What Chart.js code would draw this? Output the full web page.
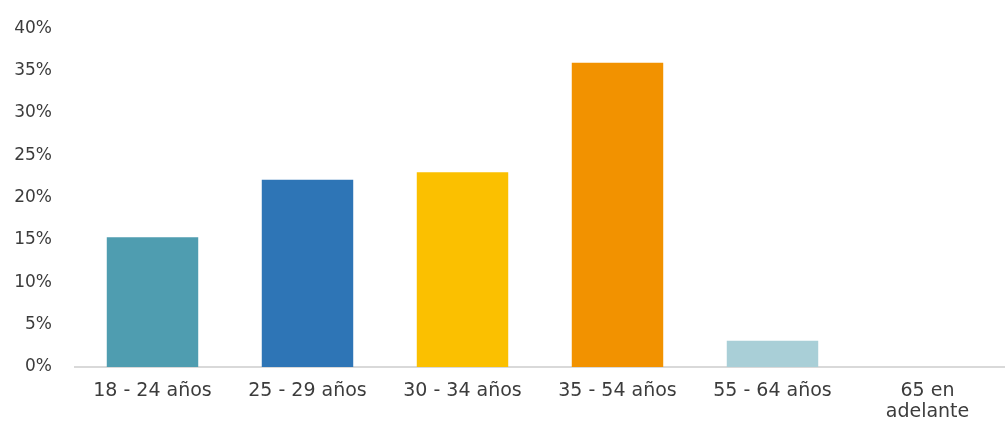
<!DOCTYPE html>
<html>
<head>
<meta charset="utf-8">
<script src="https://cdn.jsdelivr.net/npm/chart.js@4/dist/chart.umd.min.js"></script>
<style>
  html, body { margin: 0; padding: 0; background: #fff; }
  #wrap { width: 1005px; height: 421px; }
</style>
</head>
<body>
<div id="wrap"><canvas id="ageChart" width="1005" height="421"></canvas></div>
<script>
const categories = ['18 - 24 años', '25 - 29 años', '30 - 34 años', '35 - 54 años', '55 - 64 años', ['65 en', 'adelante']];
const shares = [15.3, 22.1, 23.0, 35.9, 3.1, 0];
const barColors = ['#4f9db0', '#2e75b6', '#fbc000', '#f29200', '#a9cfd7', '#7f7f7f'];
const yTicks = [0, 5, 10, 15, 20, 25, 30, 35, 40];

Chart.defaults.font.family = '"DejaVu Sans", sans-serif';
Chart.defaults.font.size = 17;
Chart.defaults.color = '#3c3c3c';

const ctx = document.getElementById('ageChart').getContext('2d');
const ageChart = new Chart(ctx, {
    type: 'bar',
    data: {
        labels: categories,
        datasets: [
            {
                data: shares,
                backgroundColor: barColors,
                borderWidth: 0,
                barPercentage: 0.59,
                categoryPercentage: 1.0,
            }
        ]
    },
    options: {
        responsive: false,
        animation: false,
        layout: { padding: { top: 0, right: 0, bottom: 0, left: 0 } },
        plugins: {
            legend: { display: false },
            tooltip: { enabled: false }
        },
        scales: {
            x: {
                afterFit: axis => { axis.height = 54; },
                grid: { display: false, drawTicks: false },
                border: { color: '#d9d9d9', width: 2 },
                ticks: {
                    padding: 14,
                    maxRotation: 0,
                    autoSkip: false,
                    font: { size: 19, lineHeight: 1.1 }
                }
            },
            y: {
                min: 0,
                max: 40,
                afterBuildTicks: axis => { axis.ticks = yTicks.map(v => ({ value: v })); },
                afterFit: axis => { axis.width = 75; },
                grid: { display: false, drawTicks: false },
                border: { display: false },
                ticks: {
                    padding: 23,
                    // single-line labels: a small line height only trims the space kept above the top tick
                    font: { lineHeight: 0.6 },
                    callback: v => v + '%'
                }
            }
        }
    }
});
</script>
</body>
</html>
